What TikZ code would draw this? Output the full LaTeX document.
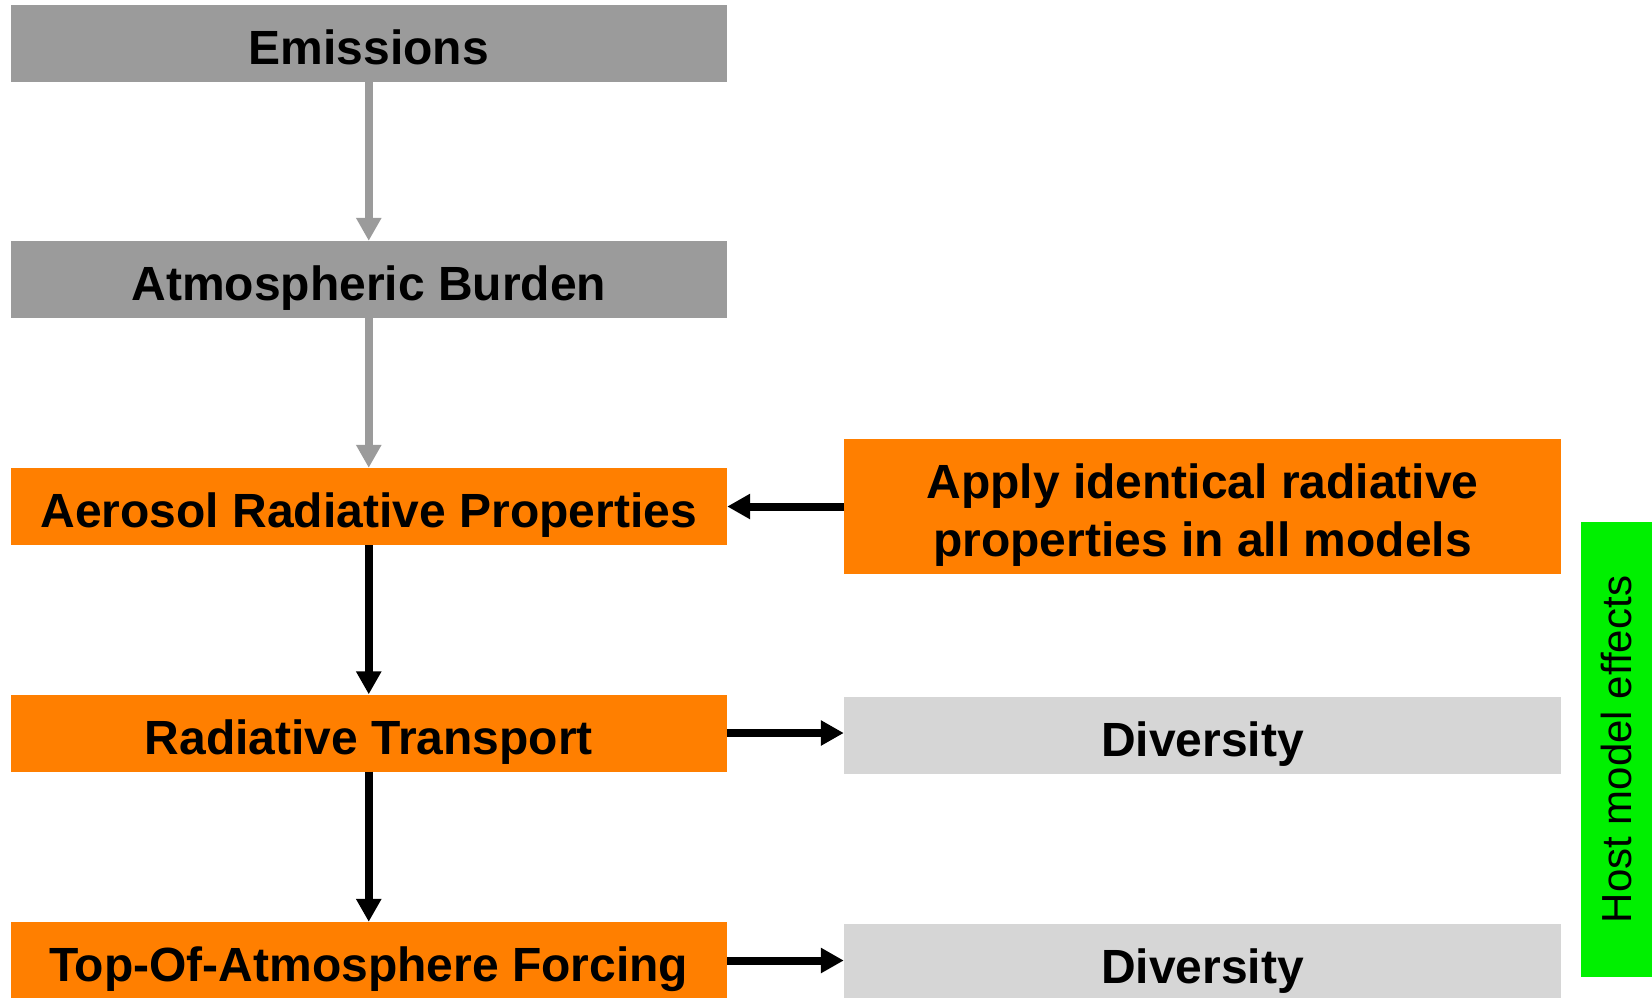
\documentclass[tikz,border=0pt]{standalone}
\usepackage{fontspec}
\setmainfont{Liberation Sans}
\usetikzlibrary{arrows.meta}
\definecolor{boxgrey}{HTML}{9B9B9B}
\definecolor{boxorange}{HTML}{FF7F00}
\definecolor{divgrey}{HTML}{D6D6D6}
\definecolor{hostgreen}{HTML}{00F000}

\begin{document}
\begin{tikzpicture}[x=1pt,y=-1pt,
   stepbase/.style={minimum width=716.5pt, minimum height=77pt, inner sep=0pt,
     text height=42pt, text depth=0pt,
     font=\fontsize{48}{58}\selectfont\bfseries, align=center},
   greybox/.style={stepbase, fill=boxgrey},
   orangebox/.style={stepbase, fill=boxorange},
   divbox/.style={stepbase, fill=divgrey},
   greyarrow/.style={draw=boxgrey, line width=8pt, -{Triangle[length=23pt,width=24pt]}},
   blackarrow/.style={draw=black, line width=8pt, -{Triangle[length=23pt,width=24pt]}}]
   \useasboundingbox (0,0) rectangle (1652,997);

   % left column
   \node[greybox]   (emis)   at (368.75,43.5)  {Emissions};
   \node[greybox]   (burden) at (368.75,279.5) {Atmospheric Burden};
   \node[orangebox] (aero)   at (368.75,506.5) {Aerosol Radiative Properties};
   \node[orangebox] (trans)  at (368.75,733)   {Radiative Transport};
   \node[orangebox] (toa)    at (368.75,960.5) {Top-Of-Atmosphere Forcing};

   % right column
   \node[orangebox, minimum width=717pt, minimum height=135pt,
     text height=101pt, text depth=2pt] (apply) at (1202.5,506.5)
     {Apply identical radiative\\properties in all models};
   \node[divbox, minimum width=717pt] (div1) at (1202.5,735)   {Diversity};
   \node[divbox, minimum width=717pt] (div2) at (1202.5,962.5) {Diversity};

   % host model bar
   \node[fill=hostgreen, minimum width=71pt, minimum height=455pt, inner sep=0pt]
     (host) at (1616.5,749.5) {};
   \node[rotate=90, font=\fontsize{42}{50}\selectfont] (hostlbl) at (host.center) {Host model effects};

   \draw[greyarrow] (emis.south) -- (burden.north);
   \draw[greyarrow] (burden.south) -- (aero.north);
   \draw[blackarrow] (aero.south) -- (trans.north);
   \draw[blackarrow] (trans.south) -- (toa.north);
   \draw[blackarrow] (apply.west) -- (aero.east);
   \draw[blackarrow] (trans.east) -- (trans.east -| div1.west);
   \draw[blackarrow] (toa.east) -- (toa.east -| div2.west);
\end{tikzpicture}
\end{document}
